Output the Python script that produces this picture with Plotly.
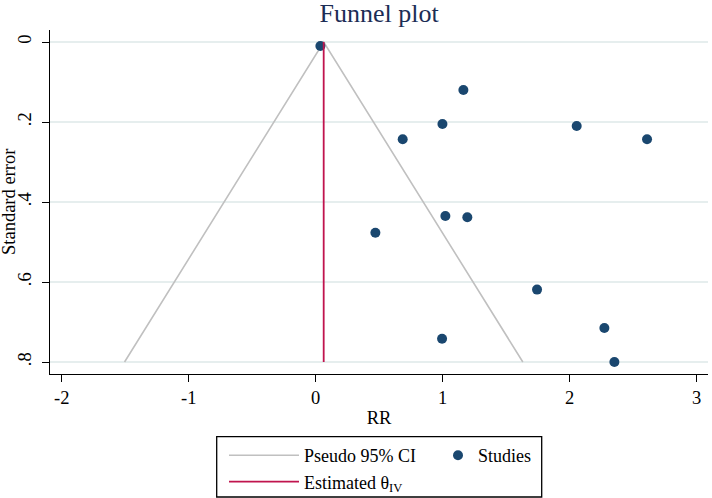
import plotly.graph_objects as go

# ---- data ----
study_rr = [0.037, 1.163, 0.998, 0.685, 2.055, 2.609, 1.021, 1.194, 0.470, 1.743, 2.273, 0.995, 2.352]
study_se = [0.010, 0.120, 0.205, 0.243, 0.210, 0.243, 0.435, 0.438, 0.477, 0.619, 0.715, 0.742, 0.800]

ci_rr = [-1.505, 0.063, 1.631]
ci_se = [0.80, 0.00, 0.80]

theta_rr = [0.063, 0.063]
theta_se = [0.00, 0.80]

x_ticks = [-2, -1, 0, 1, 2, 3]
x_ticklabels = ["-2", "-1", "0", "1", "2", "3"]
y_ticks = [0, 0.2, 0.4, 0.6, 0.8]
y_ticklabels = ["0", ".2", ".4", ".6", ".8"]

FONT = "Liberation Serif"
NAVY = "#1a476f"
RED = "#c0144e"
GRAY = "#c0c0c0"
GRID = "#e6eeee"

W, H = 712, 498
L, R, T, B = 50, 4, 30, 124

fig = go.Figure()
fig.add_trace(go.Scatter(x=ci_rr, y=ci_se, mode="lines", name="Pseudo 95% CI",
                         line=dict(color=GRAY, width=1.6), legend="legend",
                         hoverinfo="skip"))
fig.add_trace(go.Scatter(x=study_rr, y=study_se, mode="markers", name="Studies",
                         marker=dict(color=NAVY, size=10, line=dict(width=0)),
                         legend="legend2"))
fig.add_trace(go.Scatter(x=theta_rr, y=theta_se, mode="lines",
                         name="Estimated θ<sub>IV</sub>",
                         line=dict(color=RED, width=1.8), legend="legend"))

axis_common = dict(
    showline=True, linecolor="black", linewidth=1.3,
    ticks="outside", ticklen=7, tickwidth=1.3, tickcolor="black",
    zeroline=False, mirror=False, automargin=False,
    tickfont=dict(family=FONT, size=18.5, color="black"),
)

fig.update_xaxes(range=[-2.092, 3.089], tickvals=x_ticks, ticktext=x_ticklabels,
                 showgrid=False,
                 title=dict(text="RR", font=dict(family=FONT, size=18.5, color="black"),
                            standoff=3),
                 **axis_common)
fig.update_yaxes(range=[0.83, -0.03], tickvals=y_ticks, ticktext=y_ticklabels,
                 showgrid=True, gridcolor=GRID, gridwidth=1.5,
                 tickangle=-90, ticklabelstandoff=3,
                 **axis_common)

def px_to_paper_x(px):
    return (px - L) / (W - L - R)

def px_to_paper_y(py):
    return (H - B - py) / (H - T - B)

# y-axis title as rotated text
fig.add_annotation(text="Standard error", xref="paper", yref="paper",
                   x=px_to_paper_x(9), y=px_to_paper_y(202), xanchor="center", yanchor="middle",
                   textangle=-90, showarrow=False,
                   font=dict(family=FONT, size=18.5, color="black"))

# legend frame
fig.add_shape(type="rect", xref="paper", yref="paper",
              x0=px_to_paper_x(216.7), x1=px_to_paper_x(541.7),
              y0=px_to_paper_y(497.0), y1=px_to_paper_y(436.7),
              line=dict(color="black", width=1.3), fillcolor="rgba(0,0,0,0)")

fig.update_layout(
    width=W, height=H,
    margin=dict(l=L, r=R, t=T, b=B, pad=0, autoexpand=False),
    paper_bgcolor="white", plot_bgcolor="white",
    font=dict(family=FONT, color="black"),
    title=dict(text="Funnel plot", x=0.5325, xanchor="center", xref="container",
               y=0.993, yanchor="top", yref="container",
               font=dict(family=FONT, size=26, color="#1c2d55")),
    legend=dict(orientation="v", xref="container", yref="container",
                x=(224) / W, xanchor="left", y=1 - 437 / H, yanchor="top",
                itemwidth=70, bgcolor="rgba(0,0,0,0)", borderwidth=0,
                font=dict(family=FONT, size=18, color="black"),
                tracegroupgap=0),
    legend2=dict(orientation="v", xref="container", yref="container",
                 x=(438) / W, xanchor="left", y=1 - 437 / H, yanchor="top",
                 bgcolor="rgba(0,0,0,0)", borderwidth=0,
                 font=dict(family=FONT, size=18, color="black")),
    showlegend=True,
)

fig.write_html("out.html", config={"displayModeBar": False},
               post_script="document.body.style.margin='0';")
